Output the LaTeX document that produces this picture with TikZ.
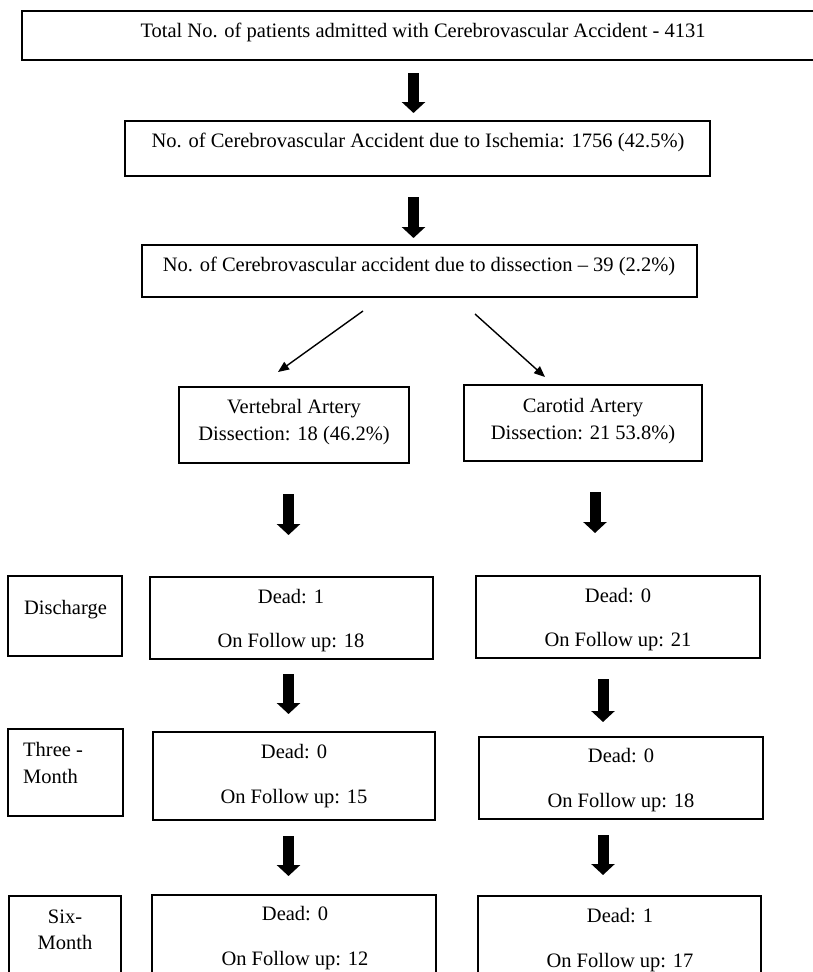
\documentclass[tikz,border=0pt]{standalone}
\usepackage{fontspec}
\setmainfont{Liberation Serif}
\usetikzlibrary{arrows.meta}
\begin{document}
\begin{tikzpicture}[x=1pt,y=-1pt,
  box/.style={draw, line width=1.8pt, inner sep=0pt, outer sep=0pt, rectangle},
  txt/.style={inner sep=0pt, anchor=base, font=\fontsize{20.5}{24}\selectfont},
  fat/.style={line width=11pt, -{Triangle[width=23pt,length=11pt]}},
  thinarr/.style={line width=1.4pt, -{Triangle[width=9pt,length=11pt]}}]
\useasboundingbox (0,0) rectangle (813,972);
\clip (0,0) rectangle (813,972);
\fill[white] (0,0) rectangle (813,972);

% boxes
\node[box, minimum width=808pt, minimum height=49pt] (b1) at (426,35.5) {};
\node[box, minimum width=585pt, minimum height=55pt] (b2) at (417.5,148.5) {};
\node[box, minimum width=555pt, minimum height=52pt] (b3) at (419.5,271) {};
\node[box, minimum width=230pt, minimum height=76pt] (bv) at (294,425) {};
\node[box, minimum width=238pt, minimum height=76pt] (bc) at (583,423) {};
\node[box, minimum width=114pt, minimum height=80pt] (lD) at (65,616) {};
\node[box, minimum width=283pt, minimum height=82pt] (vD) at (291.5,618) {};
\node[box, minimum width=284pt, minimum height=82pt] (cD) at (618,617) {};
\node[box, minimum width=115pt, minimum height=87pt] (l3) at (65.5,772.5) {};
\node[box, minimum width=282pt, minimum height=88pt] (v3) at (294,776) {};
\node[box, minimum width=284pt, minimum height=82pt] (c3) at (621,778) {};
\node[box, minimum width=112pt, minimum height=94pt] (l6) at (65,943) {};
\node[box, minimum width=284pt, minimum height=95pt] (v6) at (294,942.5) {};
\node[box, minimum width=283pt, minimum height=94pt] (c6) at (619.5,943) {};

% texts
\node[txt] (t1) at (423,37) {Total No. of patients admitted with Cerebrovascular Accident - 4131};
\node[txt] (t2) at (418,147) {No. of Cerebrovascular Accident due to Ischemia: 1756 (42.5\%)};
\node[txt] (t3) at (419,271) {No. of Cerebrovascular accident due to dissection -- 39 (2.2\%)};
\node[txt] (tv1) at (294,413) {Vertebral Artery};
\node[txt] (tv2) at (294,440) {Dissection: 18 (46.2\%)};
\node[txt] (tc1) at (583,412) {Carotid Artery};
\node[txt] (tc2) at (583,439) {Dissection: 21 53.8\%)};
\node[txt] (tlD) at (65.5,614) {Discharge};
\node[txt] (tvD1) at (291,603) {Dead: 1};
\node[txt] (tvD2) at (291,647) {On Follow up: 18};
\node[txt] (tcD1) at (618,602) {Dead: 0};
\node[txt] (tcD2) at (618,646) {On Follow up: 21};
\node[txt, anchor=base west] (tl31) at (23,756) {Three -};
\node[txt, anchor=base west] (tl32) at (23,783) {Month};
\node[txt] (tv31) at (294,758) {Dead: 0};
\node[txt] (tv32) at (294,803) {On Follow up: 15};
\node[txt] (tc31) at (621,762) {Dead: 0};
\node[txt] (tc32) at (621,807) {On Follow up: 18};
\node[txt] (tl61) at (65,923) {Six-};
\node[txt] (tl62) at (65,949) {Month};
\node[txt] (tv61) at (295,920) {Dead: 0};
\node[txt] (tv62) at (295,965) {On Follow up: 12};
\node[txt] (tc61) at (620,922) {Dead: 1};
\node[txt] (tc62) at (620,967) {On Follow up: 17};

% fat arrows
\coordinate (x1) at (413.5,0);
\coordinate (xl) at (288.5,0);
\coordinate (xr) at (595,0);
\coordinate (xr2) at (603,0);
\draw[fat, shorten <=13pt, shorten >=8pt] (b1.south -| x1) -- (b2.north -| x1);
\draw[fat, shorten <=21pt, shorten >=7pt] (b2.south -| x1) -- (b3.north -| x1);
\draw[fat, shorten <=31pt, shorten >=42pt] (bv.south -| xl) -- (vD.north -| xl);
\draw[fat, shorten <=31pt, shorten >=43pt] (bc.south -| xr) -- (cD.north -| xr);
\draw[fat, shorten <=15pt, shorten >=18pt] (vD.south -| xl) -- (v3.north -| xl);
\draw[fat, shorten <=21pt, shorten >=15pt] (cD.south -| xr2) -- (c3.north -| xr2);
\draw[fat, shorten <=16pt, shorten >=19pt] (v3.south -| xl) -- (v6.north -| xl);
\draw[fat, shorten <=16pt, shorten >=21pt] (c3.south -| xr2) -- (c6.north -| xr2);

% thin diagonal arrows
\draw[thinarr] ([xshift=-56.5pt,yshift=-14pt]b3.south) -- ([xshift=-16pt,yshift=15pt]bv.north);
\draw[thinarr] ([xshift=55.5pt,yshift=-17pt]b3.south) -- ([xshift=-38pt,yshift=8pt]bc.north);
\end{tikzpicture}
\end{document}
